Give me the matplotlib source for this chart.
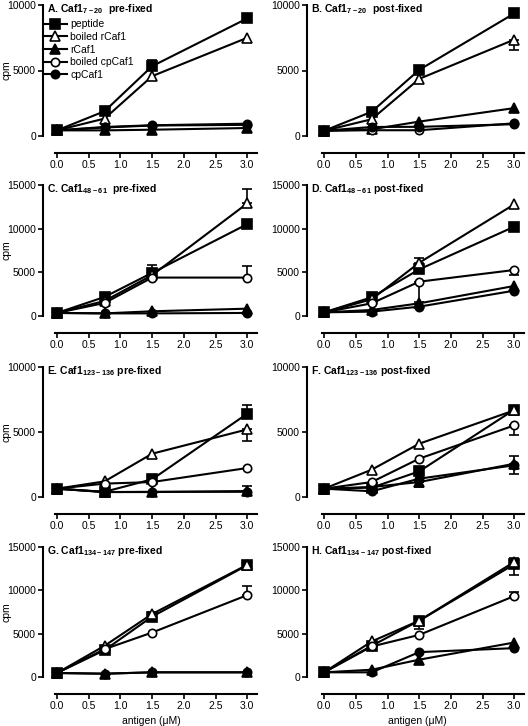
import matplotlib
matplotlib.use("Agg")
import matplotlib.pyplot as plt

plt.rcParams['font.family'] = ['Liberation Sans', 'DejaVu Sans']
plt.rcParams['mathtext.fontset'] = 'custom'
plt.rcParams['mathtext.rm'] = 'Liberation Sans'
plt.rcParams['mathtext.bf'] = 'Liberation Sans:bold'

# data
antigen = [0.0, 0.75, 1.5, 3.0]
series_names = ['peptide', 'boiled rCaf1', 'rCaf1', 'boiled cpCaf1', 'cpCaf1']

titles = [r'A. Caf1$_{\mathbf{7-20}}$  pre-fixed',
          r'B. Caf1$_{\mathbf{7-20}}$  post-fixed',
          r'C. Caf1$_{\mathbf{48-61}}$  pre-fixed',
          r'D. Caf1$_{\mathbf{48-61}}$ post-fixed',
          r'E. Caf1$_{\mathbf{123-136}}$ pre-fixed',
          r'F. Caf1$_{\mathbf{123-136}}$ post-fixed',
          r'G. Caf1$_{\mathbf{134-147}}$ pre-fixed',
          r'H. Caf1$_{\mathbf{134-147}}$ post-fixed']
ymax = [10000, 10000, 15000, 15000, 10000, 10000, 15000, 15000]

# cpm values, order: peptide, boiled rCaf1, rCaf1, boiled cpCaf1, cpCaf1
A = [[430, 1890, 5330, 8980],
     [430, 1330, 4570, 7500],
     [430, 430, 480, 610],
     [430, 690, 820, 940],
     [430, 650, 800, 850]]
B = [[400, 1850, 5050, 9360],
     [400, 1280, 4360, 7360],
     [400, 510, 1100, 2130],
     [400, 440, 440, 970],
     [400, 690, 700, 900]]
C = [[350, 2180, 4940, 10520],
     [350, 1720, 4670, 12900],
     [350, 300, 540, 840],
     [350, 1490, 4400, 4400],
     [350, 300, 300, 350]]
D = [[420, 2140, 5340, 10230],
     [420, 1910, 6100, 12790],
     [420, 690, 1450, 3440],
     [420, 1450, 3930, 5270],
     [420, 500, 1070, 2900]]
E = [[640, 400, 1360, 6410],
     [640, 1200, 3330, 5200],
     [640, 380, 380, 460],
     [640, 1030, 1150, 2230],
     [640, 380, 400, 400]]
F = [[640, 720, 1970, 6720],
     [640, 2100, 4100, 6670],
     [640, 770, 1150, 2560],
     [640, 1150, 2950, 5510],
     [640, 440, 1410, 2440]]
G = [[460, 3100, 6970, 12900],
     [460, 3600, 7270, 12950],
     [460, 380, 540, 540],
     [460, 3210, 5130, 9450],
     [460, 380, 540, 540]]
H = [[540, 3600, 6500, 13010],
     [540, 4100, 6500, 13280],
     [540, 840, 2000, 3980],
     [540, 3520, 4860, 9340],
     [540, 540, 2870, 3330]]
panels = [A, B, C, D, E, F, G, H]

# error bars: (panel, series, x index, lower, upper)
errors = [(0, 0, 2, 0, 450),
          (1, 1, 3, 770, 0),
          (2, 0, 2, 0, 880),
          (2, 1, 3, 0, 1600),
          (2, 3, 3, 0, 1300),
          (3, 1, 2, 0, 500),
          (3, 3, 2, 2290, 0),
          (3, 3, 3, 570, 0),
          (4, 0, 3, 0, 690),
          (4, 1, 3, 920, 0),
          (4, 2, 3, 0, 360),
          (5, 2, 2, 350, 0),
          (5, 2, 3, 0, 590),
          (5, 3, 3, 770, 0),
          (5, 4, 3, 640, 0),
          (6, 0, 2, 0, 570),
          (6, 3, 3, 0, 1040),
          (7, 0, 2, 1000, 0),
          (7, 0, 3, 0, 770),
          (7, 1, 3, 1530, 0),
          (7, 3, 3, 0, 500)]

markers = ['s', '^', '^', 'o', 'o']
fills = ['black', 'white', 'black', 'white', 'black']

W, Hh = 528, 726
fig = plt.figure(figsize=(W / 100, Hh / 100), dpi=100)

col_px = [(43, 260, -0.22), (307, 527, -0.27)]
row_px = [(5, 136), (185, 316), (367, 497), (547, 677)]

for i, data in enumerate(panels):
    r, c = i // 2, i % 2
    left, right, xmin = col_px[c]
    top, bot = row_px[r]
    ax = fig.add_axes([left / W, 1 - bot / Hh, (right - left) / W, (bot - top) / Hh])
    handles = []
    for k, vals in enumerate(data):
        ln, = ax.plot(antigen, vals, color='black', lw=1.5, marker=markers[k],
                      markersize=6.5 if markers[k] != 'o' else 6,
                      markerfacecolor=fills[k], markeredgecolor='black',
                      markeredgewidth=1.2, clip_on=False, zorder=3 + k * 0.1)
        handles.append(ln)
    for (p, s, xi, lo, hi) in errors:
        if p != i:
            continue
        ax.errorbar([antigen[xi]], [data[s][xi]], yerr=[[lo], [hi]], fmt='none',
                    ecolor='black', elinewidth=1.2, capsize=3.5, capthick=1.2,
                    clip_on=False, zorder=2)
    ax.set_xlim(xmin, 3.2)
    ax.set_ylim(0, ymax[i])
    ax.set_xticks([0.0, 0.5, 1.0, 1.5, 2.0, 2.5, 3.0])
    ax.set_xticklabels(['0.0', '0.5', '1.0', '1.5', '2.0', '2.5', '3.0'])
    ax.set_yticks(list(range(0, ymax[i] + 1, 5000)))
    ax.tick_params(labelsize=7.5, width=1.2, length=3.5, pad=1.5)
    ax.spines['top'].set_visible(False)
    ax.spines['right'].set_visible(False)
    ax.spines['left'].set_linewidth(1.5)
    ax.spines['bottom'].set_linewidth(1.5)
    ax.spines['bottom'].set_position(('outward', 12))
    ax.spines['bottom'].set_bounds(-0.03, 3.16)
    ax.patch.set_alpha(0)
    ax.text(0.02, 0.97, titles[i], transform=ax.transAxes, fontsize=7.5,
            fontweight='bold', ha='left', va='center')
    if c == 0:
        ax.set_ylabel('cpm', fontsize=7.5)
        ax.yaxis.set_label_coords(-0.145, 0.5)
    if r == 3:
        ax.set_xlabel('antigen (\u03bcM)', fontsize=7.5, labelpad=4)
    if i == 0:
        ax.legend(handles, series_names, loc='upper left', bbox_to_anchor=(0, 0.89),
                  frameon=False, fontsize=7.5, handlelength=2.3, handletextpad=0.3,
                  labelspacing=0.25, borderpad=0, borderaxespad=0)

fig.savefig('out.png', dpi=100)
